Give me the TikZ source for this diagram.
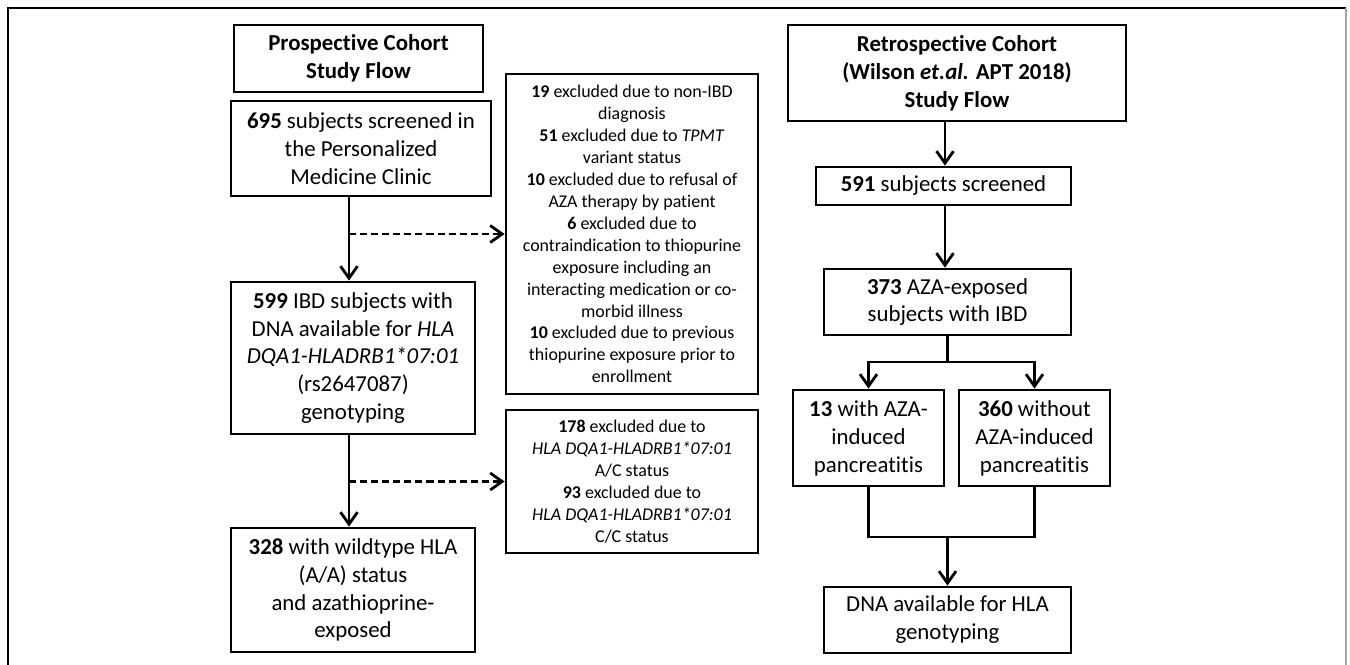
\documentclass[tikz,border=0pt]{standalone}
\usepackage{fontspec}
\setmainfont{Carlito}[Ligatures=NoCommon, Contextuals=NoAlternate]
\usetikzlibrary{arrows.meta, positioning, calc}

\begin{document}
\begin{tikzpicture}[
    x=0.02cm, y=-0.02cm,
    block/.style={rectangle, draw=black, line width=1.6pt, align=center, inner sep=2pt, font=\fontsize{13}{15.9}\selectfont},
    excl/.style={block, font=\fontsize{10.2}{12.5}\selectfont},
    arrow/.style={-{Straight Barb[length=2.4mm, width=3.4mm, line width=1.6pt]}, line width=1.6pt},
    dasharrow/.style={arrow, dash pattern=on 4pt off 2.3pt}
]
\useasboundingbox (0,0) rectangle (1350,665);

% Frame
\draw[line width=1.2pt] (8,665) -- (8,8) -- (1346,8);
\draw[gray!70, line width=1.2pt] (1346,8) -- (1346,665);

% Nodes
\node[block, minimum width=4.98cm, minimum height=1.34cm] (ptitle) at (358.5,58.5) {\textbf{Prospective Cohort}\\\textbf{Study Flow}};
\node[block, minimum width=5.2cm, minimum height=1.9cm] (screened) at (361,148.5) {\textbf{695} subjects screened in\\the Personalized\\Medicine Clinic};
\node[block, minimum width=4.88cm, minimum height=3.04cm] (dna) at (353,358) {\textbf{599} IBD subjects with\\DNA available for \textit{HLA}\\\textit{DQA1-HLADRB1*07:01}\\(rs2647087)\\genotyping};
\node[block, minimum width=4.88cm, minimum height=2.48cm] (wildtype) at (353,590) {\textbf{328} with wildtype HLA\\(A/A) status\\and azathioprine-\\exposed};
\node[excl, minimum width=5.04cm, minimum height=6.4cm] (exclone) at (632,234) {\textbf{19} excluded due to non-IBD\\diagnosis\\\textbf{51} excluded due to \textit{TPMT}\\variant status\\\textbf{10} excluded due to refusal of\\AZA therapy by patient\\\textbf{6} excluded due to\\contraindication to thiopurine\\exposure including an\\interacting medication or co-\\morbid illness\\\textbf{10} excluded due to previous\\thiopurine exposure prior to\\enrollment};
\node[excl, minimum width=5.04cm, minimum height=2.86cm] (excltwo) at (632,481.5) {\textbf{178} excluded due to\\\textit{HLA DQA1-HLADRB1*07:01}\\A/C status\\\textbf{93} excluded due to\\\textit{HLA DQA1-HLADRB1*07:01}\\C/C status};
\node[block, minimum width=6.76cm, minimum height=1.92cm] (rtitle) at (957,73) {\textbf{Retrospective Cohort}\\\textbf{(Wilson \textit{et.al.} APT 2018)}\\\textbf{Study Flow}};
\node[block, minimum width=5.1cm, minimum height=0.76cm] (rscreened) at (943.5,186) {\textbf{591} subjects screened};
\node[block, minimum width=4.94cm, minimum height=1.32cm] (exposed) at (947.5,302) {\textbf{373} AZA-exposed\\subjects with IBD};
\node[block, minimum width=3.02cm, minimum height=1.92cm] (panc) at (868.5,438) {\textbf{13} with AZA-\\induced\\pancreatitis};
\node[block, minimum width=3.02cm, minimum height=1.92cm] (nopanc) at (1034.5,438) {\textbf{360} without\\AZA-induced\\pancreatitis};
\node[block, minimum width=4.94cm, minimum height=1.32cm] (hla) at (947.5,620) {DNA available for HLA\\genotyping};

\coordinate (lx) at (349,0);
\coordinate (rx) at (945,0);
\coordinate (split) at (947.5,362);
\coordinate (join) at (947.5,537);

% Paths
\draw[arrow] (screened.south -| lx) -- (dna.north -| lx);
\draw[arrow] (dna.south -| lx) -- (wildtype.north -| lx);
\draw[dasharrow] (lx |- exclone.west) -- (exclone.west);
\draw[dasharrow] (lx |- excltwo.west) -- (excltwo.west);
\draw[arrow] (rtitle.south -| rx) -- (rscreened.north -| rx);
\draw[arrow] (rscreened.south -| rx) -- (exposed.north -| rx);
\draw[arrow] (exposed.south) -- (split) -| (panc.north);
\draw[arrow] (split) -| (nopanc.north);
\draw[line width=1.6pt] (panc.south) |- (join) -| (nopanc.south);
\draw[arrow] (join) -- (hla.north);

\end{tikzpicture}
\end{document}
